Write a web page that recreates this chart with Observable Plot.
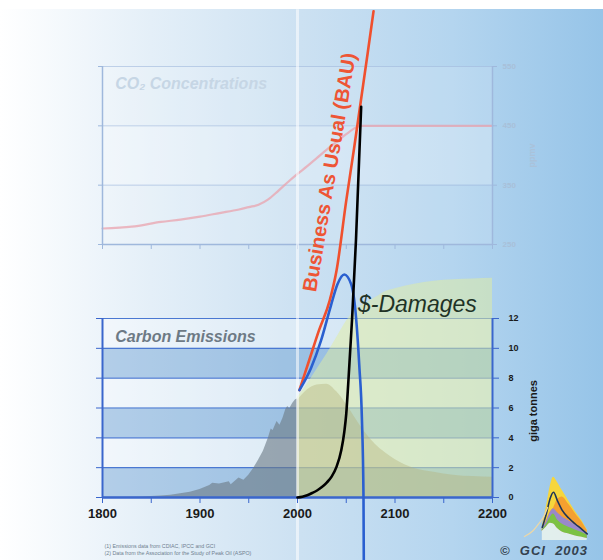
<!DOCTYPE html>
<html><head><meta charset="utf-8">
<script src="https://cdn.jsdelivr.net/npm/d3@7"></script>
<script src="https://cdn.jsdelivr.net/npm/@observablehq/plot@0.6"></script>
<style>
html,body{margin:0;padding:0;background:#fff;}
#wrap{position:relative;width:603px;height:560px;overflow:hidden;background:#fff;font-family:"Liberation Sans",Arial,sans-serif;}
#bg{position:absolute;left:0;top:9px;width:603px;height:551px;background:linear-gradient(to right,#ffffff 0%,#e4eff8 25%,#cce1f2 50%,#b4d5ef 75%,#96c4e8 100%);}
#wrap svg{position:absolute;left:0;top:0;}
#copy{position:absolute;left:500px;top:543px;width:88px;text-align:center;font:italic bold 13px "Liberation Sans",Arial,sans-serif;color:#34414e;letter-spacing:1px;white-space:pre;}
</style></head>
<body><div id="wrap"><div id="bg"></div><div id="copy">©  GCI  2003</div></div>
<script>
// ---------- data ----------
const xTicks = [1800,1850,1900,1950,2000,2050,2100,2150,2200];
const xLabels = [1800,1900,2000,2100,2200];
const emisTicks = [0,2,4,6,8,10,12];
const darkBands = [0,4,8];
const lightBands = [2,6,10];
const ppmTicks = [250,350,450,550];

// CO2 concentrations (ppmv)
const co2Years = [1800,1830,1860,1880,1900,1920,1940,1950,1960,1970,1980,1990,2000,2010,2020,2030,2040,2050,2060,2065,2100,2150,2200];
const co2Ppm   = [277,280,288,292,297,303,309,313,317,326,340,355,369,382,396,410,423,436,447,450,450,450,450];

// historical carbon emissions (GtC)
const histYears = [1800,1820,1840,1850,1860,1870,1880,1890,1900,1910,1913,1920,1930,1932,1940,1945,1950,1955,1960,1965,1970,1973,1975,1979,1982,1985,1988,1990,1992,1995,1998,2000];
const histEmis  = [0.01,0.02,0.04,0.06,0.1,0.15,0.25,0.36,0.53,0.8,0.95,0.9,1.05,0.85,1.3,1.15,1.5,1.95,2.5,3.1,3.95,4.6,4.5,5.1,4.85,5.3,5.9,6.1,5.95,6.3,6.55,6.6];

// projected emissions envelopes
const projYears = [2000,2010,2020,2030,2040,2050,2060,2070,2080,2090,2100,2120,2140,2160,2180,2200];
const projHigh  = [6.7,7.6,8.6,9.6,10.7,11.8,12.6,13.0,13.4,13.8,14.0,14.3,14.5,14.6,14.65,14.7];
const projPeak  = [6.5,7.2,7.55,7.6,7.1,6.25,5.25,4.3,3.55,3.0,2.55,1.95,1.7,1.5,1.4,1.36];

// Business As Usual
const bauYears = [2002,2012,2022,2033,2040,2050,2058,2065,2072,2078];
const bauEmis  = [7.2,9.2,11.2,13.2,15.2,19.9,23.4,26.6,29.8,32.6];

// peak scenario (blue)
const peakYears = [2002,2014,2024,2034,2041,2048,2055,2060,2063.5,2066,2067.7,2068];
const peakEmis  = [7.2,8.7,10.5,12.8,14.3,14.95,14.3,12.1,8.7,5.4,0,-4.3];

// $-damages (black)
const dmgYears = [2000,2005,2010,2015,2020,2025,2030,2035,2040,2045,2048,2050,2052,2054,2056,2060,2065.3];
const dmgVals  = [0,0.05,0.15,0.3,0.47,0.7,1.0,1.4,2.05,3.2,4.4,5.6,7.6,9.8,12.0,17.3,26.2];

// footnotes / labels
const footnotes = ["(1) Emissions data from CDIAC, IPCC and GCI", "(2) Data from the Association for the Study of Peak Oil (ASPO)"];
const footY = [-3.25, -3.75];

// logo
const logoX      = [3.0,3.6,4.2,4.7,5.3,6.0,7.0,8.0,9.0,9.8];
const logoYellow = [2.2,5.0,8.2,9.6,8.8,7.6,6.0,4.4,3.0,1.6];
const logoOrange = [1.9,2.9,4.3,4.9,6.2,6.6,5.5,4.1,2.8,1.5];
const logoPurple = [1.8,2.8,4.2,4.8,4.2,3.6,3.0,2.4,1.8,1.1];
const logoGreen  = [1.6,2.4,3.5,4.0,3.1,2.5,2.0,1.6,1.2,0.8];
const logoWhite  = [1.4,2.0,2.6,2.5,1.8,1.3,1.0,0.7,0.5,0.3];
const logoDark   = [2.0,4.0,6.4,7.3,6.0,4.6,3.4,2.5,1.7,1.0];
const logoBaseX  = [0.3,1.5,2.5,3.2,3.8];
const logoBaseY  = [0.6,1.4,2.6,3.6,5.0];

// ---------- tables ----------
const co2 = co2Years.map((x,i)=>({x, y: co2Ppm[i]}));
const hist = histYears.map((x,i)=>({x, y: histEmis[i]}));
const proj = projYears.map((x,i)=>({x, hi: projHigh[i], pk: projPeak[i]}));
const bau = bauYears.map((x,i)=>({x, y: bauEmis[i]}));
const peak = peakYears.map((x,i)=>({x, y: peakEmis[i]}));
const dmg = dmgYears.map((x,i)=>({x, y: dmgVals[i]}));
const logo = logoX.map((x,i)=>({x, ye: logoYellow[i], or: logoOrange[i], pu: logoPurple[i], gr: logoGreen[i], wh: logoWhite[i], dk: logoDark[i]}));
const logoBase = logoBaseX.map((x,i)=>({x, y: logoBaseY[i]}));

const wrap = document.getElementById("wrap");
const faint = "#9fb8dc";

// ---------- top panel: CO2 ----------
const co2Plot = Plot.plot({
  width: 603, height: 560,
  marginLeft: 102, marginRight: 111, marginTop: 66, marginBottom: 316,
  x: {domain: [1800, 2200]},
  y: {domain: [250, 550]},
  style: {background: "transparent", overflow: "visible", fontFamily: "Liberation Sans, Arial, sans-serif"},
  marks: [
    Plot.rect([250,450], {x1: 1800, x2: 2200, y1: d=>d, y2: d=>d+100, fill: "white", fillOpacity: 0.12}),
    Plot.rect([350], {x1: 1800, x2: 2200, y1: d=>d, y2: d=>d+100, fill: "white", fillOpacity: 0.28}),
    Plot.ruleY([350,450,550], {x1: 1800, x2: 2200, stroke: faint, strokeOpacity: 0.6}),
    Plot.line(co2, {x: "x", y: "y", stroke: "#e9a3ad", strokeWidth: 2.2, strokeOpacity: 0.75, curve: "monotone-x"}),
    Plot.ruleY([250], {x1: 1800, x2: 2200, stroke: faint, strokeWidth: 1.5}),
    Plot.ruleX([1800, 2200], {y1: 250, y2: 550, stroke: faint, strokeWidth: 1.5}),
    Plot.axisX({ticks: xTicks, tickFormat: () => "", tickSize: 5, stroke: faint, label: null}),
    Plot.axisY({anchor: "left", ticks: ppmTicks, tickFormat: () => "", tickSize: 4, stroke: faint, label: null}),
    Plot.axisY({anchor: "right", ticks: ppmTicks, tickSize: 4, tickPadding: 6, stroke: faint, fill: "#a8c0d9", fontSize: 8, fontWeight: "bold", label: null}),
    Plot.text(["CO₂ Concentrations"], {x: 1813, y: 521, text: d=>d, textAnchor: "start", lineAnchor: "middle", fontSize: 16, fontWeight: "bold", fontStyle: "italic", fill: "#c6d6e5"}),
    Plot.text(["ppmv"], {x: 2200, y: 400, dx: 40, text: d=>d, rotate: -90, fontSize: 9, fontWeight: "bold", fill: "#aac2da"})
  ]
});
wrap.appendChild(co2Plot);

// ---------- bottom panel: emissions ----------
const emPlot = Plot.plot({
  width: 603, height: 560,
  marginLeft: 102, marginRight: 111, marginTop: 318, marginBottom: 63,
  x: {domain: [1800, 2200]},
  y: {domain: [0, 12]},
  style: {background: "transparent", overflow: "visible", fontFamily: "Liberation Sans, Arial, sans-serif"},
  marks: [
    Plot.rect(darkBands, {x1: 1800, x2: 2200, y1: d=>d, y2: d=>d+2, fill: "#2f76c0", fillOpacity: 0.3}),
    Plot.rect(lightBands, {x1: 1800, x2: 2200, y1: d=>d, y2: d=>d+2, fill: "white", fillOpacity: 0.3}),
    Plot.ruleY(emisTicks, {x1: 1800, x2: 2200, stroke: "#4a78d2", strokeWidth: 1.2}),
    Plot.areaY(proj, {x: "x", y: "hi", fill: "#e2eda0", fillOpacity: 0.5, curve: "monotone-x"}),
    Plot.areaY(proj, {x: "x", y: "pk", fill: "#b5b27a", fillOpacity: 0.4, curve: "monotone-x"}),
    Plot.areaY(hist, {x: "x", y: "y", fill: "#6c7a86", fillOpacity: 0.62}),
    Plot.ruleX([2000], {y1: -4.3, y2: 32.7, stroke: "white", strokeWidth: 3, strokeOpacity: 0.55}),
    Plot.ruleY([0], {x1: 1800, x2: 2200, stroke: "#3a66cc", strokeWidth: 2.5}),
    Plot.ruleX([1800, 2200], {y1: 0, y2: 12, stroke: "#3a66cc", strokeWidth: 2}),
    Plot.axisX({ticks: xTicks, tickSize: 6, tickPadding: 5, tickFormat: d => xLabels.includes(d) ? String(d) : "", stroke: "#3a66cc", fill: "#1a1a1a", fontSize: 13, fontWeight: "bold", label: null}),
    Plot.axisY({anchor: "left", ticks: emisTicks, tickSize: 6, tickFormat: () => "", stroke: "#3a66cc", label: null}),
    Plot.axisY({anchor: "right", ticks: emisTicks, tickSize: 6, tickPadding: 10, stroke: "#3a66cc", fill: "#1a1a1a", fontSize: 9, fontWeight: "bold", label: null}),
    Plot.text(["giga tonnes"], {x: 2200, y: 5.8, dx: 41, text: d=>d, rotate: -90, fontSize: 11, fontWeight: "bold", fill: "#1a1a1a"}),
    Plot.line(bau, {x: "x", y: "y", stroke: "#f0502e", strokeWidth: 2.6, curve: "monotone-x"}),
    Plot.line(peak, {x: "x", y: "y", stroke: "#2a5fd0", strokeWidth: 2.6, curve: "monotone-x"}),
    Plot.line(dmg, {x: "x", y: "y", stroke: "#000", strokeWidth: 2.6, curve: "monotone-x"}),
    Plot.text(["Carbon Emissions"], {x: 1813, y: 10.8, text: d=>d, textAnchor: "start", lineAnchor: "middle", fontSize: 16, fontWeight: "bold", fontStyle: "italic", fill: "#6d7a85"}),
    Plot.text(["$-Damages"], {x: 2062, y: 12.94, text: d=>d, textAnchor: "start", lineAnchor: "middle", fontSize: 23, fontStyle: "italic", fill: "#1f3326"}),
    Plot.text(["Business As Usual (BAU)"], {x: 2033, y: 21.8, text: d=>d, rotate: -80.5, textAnchor: "middle", lineAnchor: "middle", fontSize: 20, fontWeight: "bold", fill: "#ee5535"}),
    Plot.text(footnotes, {x: 1802, y: (d,i)=>footY[i], text: d=>d, textAnchor: "start", fontSize: 5.3, fill: "#6f7f90"})
  ]
});
wrap.appendChild(emPlot);

// ---------- logo ----------
const lg = Plot.plot({
  width: 66, height: 66, margin: 0,
  x: {domain: [0, 10], axis: null},
  y: {domain: [0, 10], axis: null},
  style: {background: "transparent", overflow: "visible"},
  marks: [
    Plot.areaY(logo, {x: "x", y1: "wh", y2: "ye", fill: "#f6d63c", curve: "monotone-x"}),
    Plot.areaY(logo, {x: "x", y1: "wh", y2: "or", fill: "#f4a030", curve: "monotone-x"}),
    Plot.areaY(logo, {x: "x", y1: "wh", y2: "pu", fill: "#9a88c8", curve: "monotone-x"}),
    Plot.areaY(logo, {x: "x", y1: "wh", y2: "gr", fill: "#7cc243", curve: "monotone-x"}),
    Plot.areaY(logo, {x: "x", y1: d=>0, y2: "wh", fill: "#f3f7ee", fillOpacity: 0.8, curve: "monotone-x"}),
    Plot.line(logo, {x: "x", y: "dk", stroke: "#1d3557", strokeWidth: 1.6, curve: "monotone-x"}),
    Plot.line(logoBase, {x: "x", y: "y", stroke: "#ecd7a6", strokeWidth: 1.3, curve: "monotone-x"})
  ]
});
lg.style.left = "522px";
lg.style.top = "474px";
wrap.appendChild(lg);
</script>
</body></html>
